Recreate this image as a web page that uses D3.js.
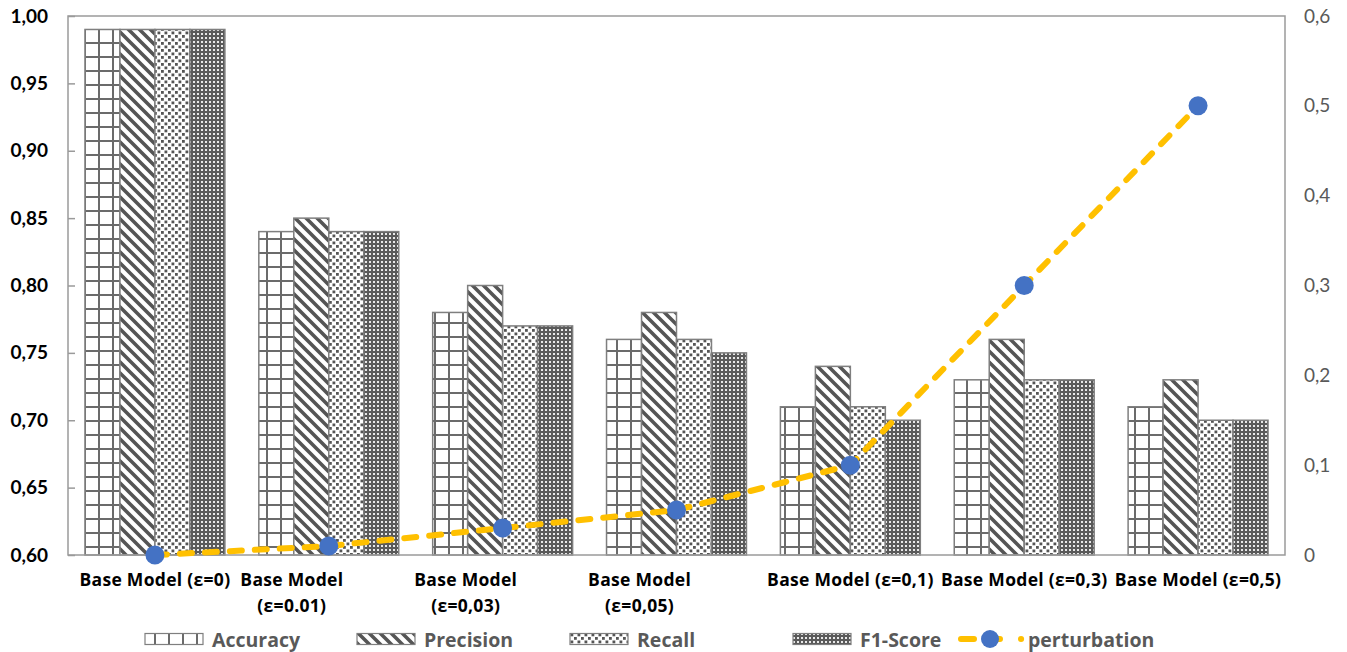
<!DOCTYPE html>
<html>
<head>
<meta charset="utf-8">
<script src="https://cdn.jsdelivr.net/npm/d3@7/dist/d3.min.js"></script>
<style>
  html, body { margin: 0; padding: 0; background: #fff; }
  svg { display: block; font-family: "Open Sans", Lato, "DejaVu Sans", sans-serif; }
</style>
</head>
<body>
<svg id="chart" width="1347" height="652"></svg>
<script>
// Category labels, split into the lines they are drawn on
const categoryLines = [
  ["Base Model (ε=0)"],
  ["Base Model", "(ε=0.01)"],
  ["Base Model", "(ε=0,03)"],
  ["Base Model", "(ε=0,05)"],
  ["Base Model (ε=0,1)"],
  ["Base Model (ε=0,3)"],
  ["Base Model (ε=0,5)"]
];
const categories = categoryLines.map(l => l.join(" "));

const metricNames = ["Accuracy", "Precision", "Recall", "F1-Score"];
const accuracy  = [0.99, 0.84, 0.78, 0.76, 0.71, 0.73, 0.71];
const precision = [0.99, 0.85, 0.80, 0.78, 0.74, 0.76, 0.73];
const recall    = [0.99, 0.84, 0.77, 0.76, 0.71, 0.73, 0.70];
const f1score   = [0.99, 0.84, 0.77, 0.75, 0.70, 0.73, 0.70];
const perturbation = [0, 0.01, 0.03, 0.05, 0.1, 0.3, 0.5];

const leftTicks  = [0.60, 0.65, 0.70, 0.75, 0.80, 0.85, 0.90, 0.95, 1.00];
const rightTicks = [0, 0.1, 0.2, 0.3, 0.4, 0.5, 0.6];

const metricSeries = [accuracy, precision, recall, f1score];

const svg = d3.select("#chart");
const plot = { left: 68, right: 1285, top: 16, bottom: 555 };

// ---- fill patterns for the four metrics ----
const defs = svg.append("defs");
const ink = "#6b6b6b";

// large grid
const pGrid = defs.append("pattern").attr("id", "pat-grid")
  .attr("patternUnits", "userSpaceOnUse").attr("width", 14).attr("height", 14);
pGrid.append("rect").attr("width", 14).attr("height", 14).attr("fill", "#fff");
pGrid.append("rect").attr("x", 0).attr("y", 0).attr("width", 2).attr("height", 14).attr("fill", ink);
pGrid.append("rect").attr("x", 0).attr("y", 0).attr("width", 14).attr("height", 2).attr("fill", ink);

// wide downward diagonal
const pDiag = defs.append("pattern").attr("id", "pat-diag")
  .attr("patternUnits", "userSpaceOnUse").attr("width", 11).attr("height", 11);
pDiag.append("rect").attr("width", 11).attr("height", 11).attr("fill", "#fff");
pDiag.append("path").attr("d", "M-3,-3 L14,14 M-3,8 L3,14 M8,-3 L14,3")
  .attr("stroke", "#555").attr("stroke-width", 3.6);

// dotted grid
const pDots = defs.append("pattern").attr("id", "pat-dots")
  .attr("patternUnits", "userSpaceOnUse").attr("width", 7).attr("height", 7);
pDots.append("rect").attr("width", 7).attr("height", 7).attr("fill", "#fff");
pDots.append("rect").attr("x", 0).attr("y", 0).attr("width", 2.8).attr("height", 2.8).attr("fill", "#555");
pDots.append("rect").attr("x", 3.5).attr("y", 3.5).attr("width", 2.8).attr("height", 2.8).attr("fill", "#555");

// dense trellis
const pDense = defs.append("pattern").attr("id", "pat-dense")
  .attr("patternUnits", "userSpaceOnUse").attr("width", 4).attr("height", 4);
pDense.append("rect").attr("width", 4).attr("height", 4).attr("fill", "#5a5a5a");
pDense.append("rect").attr("x", 1).attr("y", 1).attr("width", 2).attr("height", 2).attr("fill", "#e8e8e8");

const fills = ["url(#pat-grid)", "url(#pat-diag)", "url(#pat-dots)", "url(#pat-dense)"];

// ---- scales ----
const x = d3.scaleBand().domain(categories).range([plot.left, plot.right]).padding(0);
const xInner = d3.scaleBand().domain(metricNames).range([0, x.bandwidth()])
  .paddingInner(0).paddingOuter(0.485);
const yLeft = d3.scaleLinear().domain([0.6, 1.0]).range([plot.bottom, plot.top]);
const yRight = d3.scaleLinear().domain([0, 0.6]).range([plot.bottom, plot.top]);

// ---- bars ----
const barData = [];
categories.forEach((c, i) => {
  metricNames.forEach((m, j) => barData.push({ c, m, j, v: metricSeries[j][i] }));
});
svg.append("g").selectAll("rect").data(barData).join("rect")
  .attr("x", d => x(d.c) + xInner(d.m))
  .attr("y", d => yLeft(d.v))
  .attr("width", xInner.bandwidth())
  .attr("height", d => yLeft(0.6) - yLeft(d.v))
  .attr("fill", d => fills[d.j])
  .attr("stroke", "#7f7f7f").attr("stroke-width", 1.5);

// ---- frame ----
svg.append("rect")
  .attr("x", plot.left).attr("y", plot.top)
  .attr("width", plot.right - plot.left).attr("height", plot.bottom - plot.top)
  .attr("fill", "none").attr("stroke", "#9a9a9a").attr("stroke-width", 1.5);

// ---- left axis ----
const fmtLeft = d => d3.format(".2f")(d).replace(".", ",");
const leftAxis = d3.axisLeft(yLeft).tickValues(leftTicks).tickFormat(fmtLeft)
  .tickSizeInner(-7).tickSizeOuter(0).tickPadding(20);
const gL = svg.append("g").attr("transform", `translate(${plot.left},0)`).call(leftAxis);
gL.select(".domain").remove();
gL.selectAll("line").attr("stroke", "#9a9a9a").attr("stroke-width", 1.5);
gL.selectAll("text").attr("font-size", 19).attr("font-weight", "bold").attr("fill", "#000")
  .attr("font-family", "Lato, sans-serif");

// ---- right axis ----
const fmtRight = d => d === 0 ? "0" : d3.format(".1f")(d).replace(".", ",");
const rightAxis = d3.axisRight(yRight).tickValues(rightTicks).tickFormat(fmtRight)
  .tickSize(0).tickPadding(19);
const gR = svg.append("g").attr("transform", `translate(${plot.right},0)`).call(rightAxis);
gR.select(".domain").remove();
gR.selectAll("text").attr("font-size", 19).attr("fill", "#595959")
  .attr("font-family", "Lato, sans-serif");

// ---- category labels ----
const labelG = svg.append("g").attr("font-size", 17.5).attr("font-weight", "bold").attr("fill", "#000")
  .attr("letter-spacing", 0.3)
  .attr("font-family", "'Open Sans', sans-serif");
categoryLines.forEach((lines, i) => {
  const cx = x(categories[i]) + x.bandwidth() / 2;
  // width of the label set on a single line, used to place the wrapped block
  const probe = labelG.append("text").text(categories[i]);
  const fullW = probe.node().getComputedTextLength();
  probe.remove();
  let blockCx = cx;
  if (lines.length > 1) {
    const first = labelG.append("text").text(lines[0]);
    const firstW = first.node().getComputedTextLength();
    first.remove();
    blockCx = cx - fullW / 2 + firstW / 2;
  }
  lines.forEach((ln, k) => {
    labelG.append("text")
      .attr("x", blockCx).attr("y", 586 + k * 26)
      .attr("text-anchor", "middle").text(ln);
  });
});

// ---- perturbation line ----
const lineColor = "#FFC000";
const markColor = "#4472C4";
const line = d3.line()
  .x((d, i) => x(categories[i]) + x.bandwidth() / 2)
  .y(d => yRight(d));
svg.append("path").datum(perturbation)
  .attr("d", line).attr("fill", "none")
  .attr("stroke", lineColor).attr("stroke-width", 6)
  .attr("stroke-dasharray", "12 13").attr("stroke-linecap", "round");
svg.append("g").selectAll("circle").data(perturbation).join("circle")
  .attr("cx", (d, i) => x(categories[i]) + x.bandwidth() / 2)
  .attr("cy", d => yRight(d))
  .attr("r", 9.5).attr("fill", markColor);

// ---- legend ----
const legY = 639;
const legend = svg.append("g").attr("font-size", 19.5).attr("font-weight", "bold").attr("fill", "#595959")
  .attr("font-family", "'Open Sans', sans-serif");
const legBoxX = [145, 357, 570, 793];
metricNames.forEach((m, j) => {
  legend.append("rect")
    .attr("x", legBoxX[j]).attr("y", legY - 5.5).attr("width", 58).attr("height", 11)
    .attr("fill", fills[j]).attr("stroke", "#7f7f7f").attr("stroke-width", 1.2);
  legend.append("text").attr("x", legBoxX[j] + 67).attr("y", legY + 7.5).text(m);
});
const lx = 958;
legend.append("line").attr("x1", lx + 3).attr("x2", lx + 55).attr("y1", legY).attr("y2", legY)
  .attr("stroke", lineColor).attr("stroke-width", 6)
  .attr("stroke-dasharray", "13 13").attr("stroke-linecap", "round");
legend.append("line").attr("x1", lx + 63).attr("x2", lx + 63.1).attr("y1", legY).attr("y2", legY)
  .attr("stroke", lineColor).attr("stroke-width", 6).attr("stroke-linecap", "round");
legend.append("circle").attr("cx", lx + 32).attr("cy", legY).attr("r", 9).attr("fill", markColor);
legend.append("text").attr("x", lx + 70).attr("y", legY + 7.5).text("perturbation");
</script>
</body>
</html>
